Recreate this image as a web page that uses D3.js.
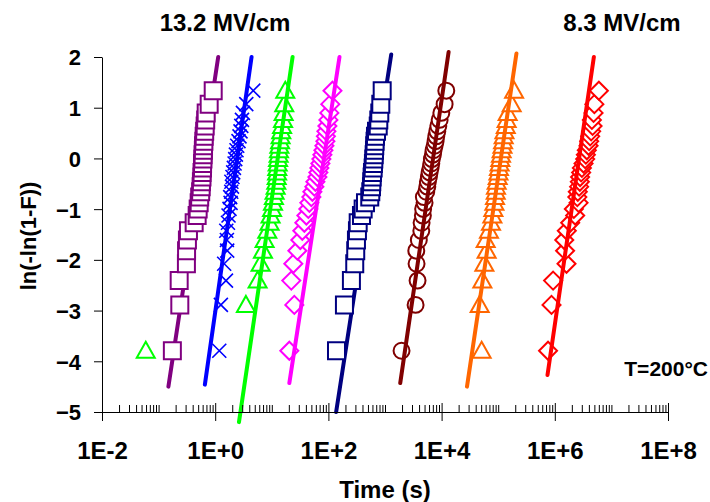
<!DOCTYPE html>
<html lang="en">
<head>
<meta charset="UTF-8">
<title>Weibull plot T=200°C</title>
<style>
  body { margin: 0; background: #fff; }
  text { font-family: "Liberation Sans", Arial, sans-serif; font-weight: bold; fill: #000; }
</style>
</head>
<body>
<div id="chart"></div>
<script src="https://d3js.org/d3.v7.min.js"></script>
<script>
// Weibull plotting levels ln(-ln(1-F)), 31 samples per stress
const levels = [-3.792, -2.888, -2.409, -2.077, -1.819, -1.608, -1.427, -1.268, -1.126, -0.996,
  -0.876, -0.763, -0.657, -0.556, -0.460, -0.367, -0.276, -0.187, -0.100, -0.013,
  0.074, 0.161, 0.250, 0.340, 0.435, 0.534, 0.641, 0.760, 0.898, 1.070, 1.336];

// time to breakdown (s), one array per field
const purpleTimes = [0.175, 0.237, 0.231, 0.310, 0.312, 0.323, 0.337, 0.425, 0.480, 0.500,
  0.521, 0.532, 0.554, 0.565, 0.571, 0.584, 0.586, 0.596, 0.598, 0.607,
  0.611, 0.618, 0.622, 0.631, 0.639, 0.652, 0.665, 0.679, 0.693, 0.783, 0.922];
const blueTimes = [1.18, 1.26, 1.55, 1.44, 1.63, 1.61, 1.57, 1.68, 1.72, 1.79,
  1.87, 1.84, 1.92, 1.98, 1.93, 2.02, 2.08, 2.14, 2.20, 2.26,
  2.32, 2.38, 2.45, 2.58, 2.69, 2.80, 2.89, 2.97, 3.09, 3.54, 4.71];
const greenTimes = [0.0593, 3.49, 5.61, 6.34, 6.98, 7.46, 8.32, 9.14, 9.52, 10.1,
  10.5, 10.9, 11.2, 11.7, 12.0, 12.2, 12.4, 12.5, 12.7, 12.9,
  13.2, 13.4, 13.6, 14.0, 14.3, 14.7, 15.2, 15.8, 16.2, 16.6, 17.3];
const magentaTimes = [20.4, 25.0, 22.1, 24.0, 28.3, 31.9, 34.6, 37.6, 40.8, 44.2,
  46.1, 50.0, 52.1, 56.5, 58.9, 63.9, 66.5, 69.3, 72.2, 75.2,
  78.3, 81.6, 85.0, 88.5, 90.3, 92.2, 96.0, 100, 104, 108, 118];
const navyTimes = [139, 192, 255, 292, 304, 313, 326, 336, 384, 411,
  452, 538, 561, 577, 584, 593, 601, 618, 625, 634,
  644, 652, 659, 668, 679, 708, 759, 777, 809, 843, 892];
const maroonTimes = [1960, 3470, 3760, 3610, 3570, 3960, 4380, 4430, 4670, 4720,
  5000, 4860, 5360, 5590, 5730, 5960, 6140, 6380, 6580, 6730,
  7020, 7210, 7520, 7830, 8050, 8400, 8750, 9230, 9890, 11300, 12100];
const orangeTimes = [5.10e4, 4.71e4, 5.25e4, 5.70e4, 6.25e4, 6.01e4, 6.87e4, 7.46e4, 7.89e4, 8.22e4,
  8.57e4, 8.79e4, 9.04e4, 9.14e4, 9.40e4, 9.80e4, 1.01e5, 1.03e5, 1.06e5, 1.09e5,
  1.12e5, 1.15e5, 1.19e5, 1.22e5, 1.25e5, 1.29e5, 1.36e5, 1.41e5, 1.47e5, 1.73e5, 1.91e5];
const redTimes = [7.60e5, 8.75e5, 9.33e5, 1.61e6, 1.52e6, 1.47e6, 1.63e6, 1.87e6, 2.29e6, 2.17e6,
  2.63e6, 2.50e6, 2.55e6, 2.69e6, 2.77e6, 2.80e6, 2.92e6, 3.01e6, 3.22e6, 3.44e6,
  3.54e6, 3.68e6, 3.95e6, 4.05e6, 4.22e6, 4.39e6, 4.65e6, 4.52e6, 4.84e6, 5.00e6, 6.01e6];

// fitted Weibull lines: [time, level] end points
const purpleFit = [[0.149, -4.5], [1.13, 2.0]];
const blueFit = [[0.657, -4.46], [4.39, 2.0]];
const greenFit = [[2.63, -5.2], [23.3, 2.0]];
const magentaFit = [[20.4, -4.43], [157, 2.0]];
const navyFit = [[137, -5.0], [1288, 2.05]];
const maroonFit = [[1858, -4.43], [13300, 2.1]];
const orangeFit = [[2.81e4, -4.5], [2.10e5, 2.07]];
const redFit = [[7.43e5, -4.27], [4.90e6, 2.0]];

const yTicks = [-5, -4, -3, -2, -1, 0, 1, 2];
const xMajor = [1e-2, 1e0, 1e2, 1e4, 1e6, 1e8];

const series = [
  { times: purpleTimes, fit: purpleFit, color: "#800080", marker: "square", lineOnTop: false },
  { times: blueTimes, fit: blueFit, color: "#0000ff", marker: "x", lineOnTop: true },
  { times: greenTimes, fit: greenFit, color: "#00ff00", marker: "triangle", lineOnTop: true },
  { times: magentaTimes, fit: magentaFit, color: "#ff00ff", marker: "diamond", lineOnTop: true },
  { times: navyTimes, fit: navyFit, color: "#000080", marker: "square", lineOnTop: false },
  { times: maroonTimes, fit: maroonFit, color: "#800000", marker: "circle", lineOnTop: true },
  { times: orangeTimes, fit: orangeFit, color: "#ff6600", marker: "triangle", lineOnTop: true },
  { times: redTimes, fit: redFit, color: "#ff0000", marker: "diamond", lineOnTop: true }
];

const width = 710, height = 502;
const svg = d3.select("#chart").append("svg")
  .attr("width", width)
  .attr("height", height);

const x = d3.scaleLog().domain([1e-2, 1e8]).range([102, 668]);
const y = d3.scaleLinear().domain([-5, 2]).range([412, 57]);

// marker shapes
const markerPath = {
  square: "M-8.5,-8.5H8.5V8.5H-8.5Z",
  triangle: "M0,-9L9,7H-9Z",
  diamond: "M0,-9L9,0L0,9L-9,0Z",
  circle: d3.symbol(d3.symbolCircle, 200)(),
  x: "M-7,-7L7,7M-7,7L7,-7"
};

const line = d3.line().x(d => x(d[0])).y(d => y(d[1]));

function drawLine(g, s) {
  g.append("path")
    .datum(s.fit)
    .attr("fill", "none")
    .attr("stroke", s.color)
    .attr("stroke-width", 4)
    .attr("stroke-linecap", "round")
    .attr("d", line);
}

series.forEach(s => {
  const g = svg.append("g");
  if (!s.lineOnTop) drawLine(g, s);
  g.selectAll("path.pt")
    .data(s.times.map((t, i) => [t, levels[i]]))
    .enter()
    .append("path")
    .attr("class", "pt")
    .attr("transform", d => "translate(" + x(d[0]) + "," + y(d[1]) + ")")
    .attr("d", markerPath[s.marker])
    .attr("fill", s.marker === "x" ? "none" : "#fff")
    .attr("stroke", s.color)
    .attr("stroke-width", s.marker === "x" ? 1.6 : 2);
  if (s.lineOnTop) drawLine(g, s);
});

// y axis
const yAxis = svg.append("g")
  .attr("transform", "translate(102,0)")
  .call(d3.axisLeft(y).tickValues(yTicks).tickSize(8).tickSizeOuter(0).tickPadding(13)
    .tickFormat(d3.format("d")));
yAxis.selectAll("text").style("font-size", "22px").attr("dy", "0.36em");

// x axis: minor ticks (2..9 of every decade, plus odd decades) pointing in
const xMinor = [];
d3.range(-2, 8).forEach(e => {
  d3.range(1, 10).forEach(k => {
    if (k === 1 && e % 2 === 0) return;
    xMinor.push(k * Math.pow(10, e));
  });
});
svg.append("g")
  .attr("transform", "translate(0,412)")
  .call(d3.axisTop(x).tickValues(xMinor).tickSize(7).tickSizeOuter(0).tickFormat(""))
  .call(g => g.select(".domain").remove());

const expLabel = d => {
  const e = Math.round(Math.log10(d));
  return "1E" + (e < 0 ? "-" : "+") + Math.abs(e);
};
const xAxis = svg.append("g")
  .attr("transform", "translate(0,412)")
  .call(d3.axisBottom(x).tickValues(xMajor).tickSize(9).tickSizeOuter(0).tickPadding(21)
    .tickFormat(expLabel));
xAxis.selectAll(".tick line").attr("y1", -9);
xAxis.selectAll("text").style("font-size", "24px");
svg.selectAll(".domain, .tick line").attr("stroke", "#000");

// axis titles
svg.append("text")
  .attr("x", 385)
  .attr("y", 498)
  .attr("text-anchor", "middle")
  .style("font-size", "24px")
  .text("Time (s)");

svg.append("text")
  .attr("transform", "translate(36,236) rotate(-90)")
  .attr("text-anchor", "middle")
  .style("font-size", "22px")
  .text("ln(-ln(1-F))");

// annotations
svg.append("text")
  .attr("x", 225).attr("y", 31)
  .attr("text-anchor", "middle")
  .style("font-size", "24px")
  .text("13.2 MV/cm");

svg.append("text")
  .attr("x", 622).attr("y", 31)
  .attr("text-anchor", "middle")
  .style("font-size", "24px")
  .text("8.3 MV/cm");

svg.append("text")
  .attr("x", 708).attr("y", 376)
  .attr("text-anchor", "end")
  .style("font-size", "21px")
  .text("T=200°C");
</script>
</body>
</html>
